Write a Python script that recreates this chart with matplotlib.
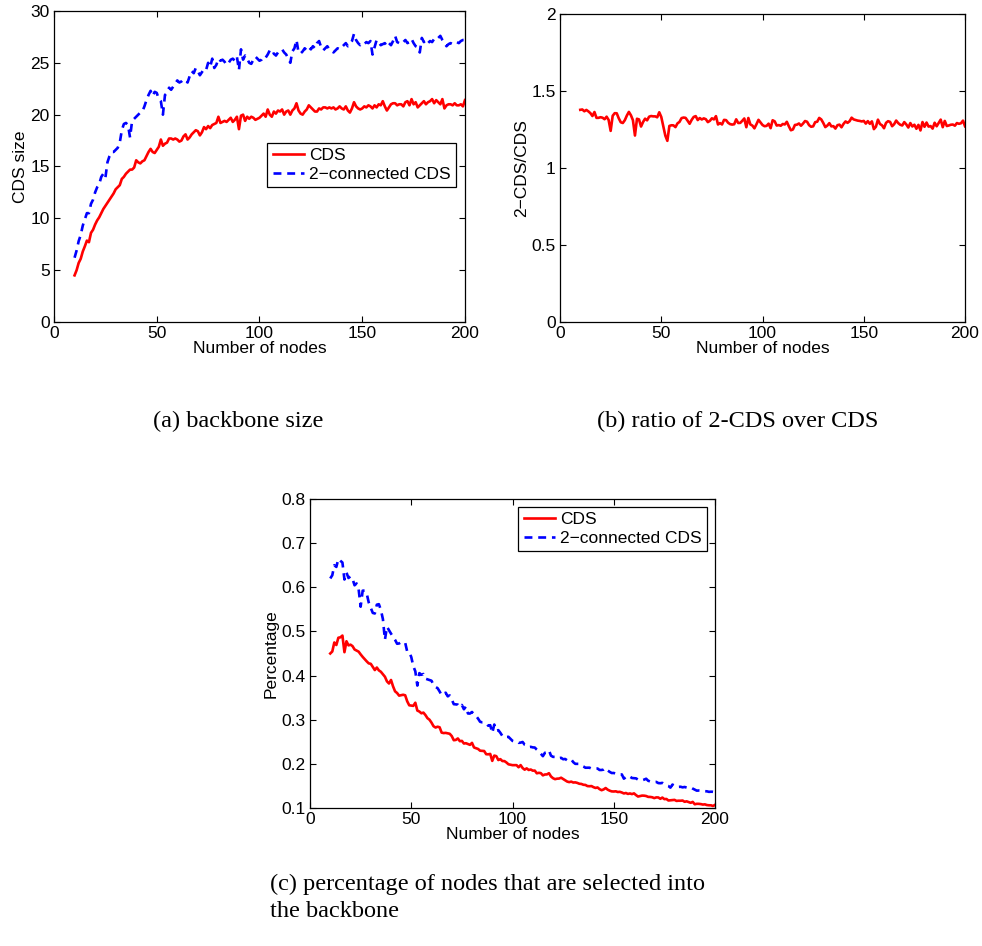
import numpy as np
import matplotlib
matplotlib.use("Agg")
import matplotlib.pyplot as plt

# ---------------- data ----------------
nodes = list(range(10, 201))

cds_size = [
    4.5, 5.0, 5.7, 6.1, 6.8, 7.3, 7.85, 7.7, 8.6, 8.9,          # 10-19
    9.4, 9.8, 10.1, 10.5, 10.9, 11.2, 11.5, 11.8, 12.1, 12.4,   # 20-29
    12.8, 13.0, 13.2, 13.8, 14.0, 14.3, 14.5, 14.7, 14.7, 14.9, # 30-39
    15.6, 15.4, 15.3, 15.5, 15.6, 16.0, 16.4, 16.7, 16.4, 16.3, # 40-49
    16.6, 16.9, 17.6, 17.0, 17.2, 17.3, 17.7, 17.7, 17.6, 17.7, # 50-59
    17.6, 17.4, 17.5, 17.9, 18.1, 17.6, 17.8, 18.1, 18.3, 18.5, # 60-69
    18.4, 18.0, 18.3, 18.8, 18.6, 18.9, 18.7, 19.0, 19.1, 19.2, # 70-79
    19.8, 19.2, 19.3, 19.4, 19.3, 19.5, 19.7, 19.3, 19.5, 19.8, # 80-89
    18.6, 19.9, 20.0, 19.4, 19.8, 19.6, 19.8, 19.7, 19.5, 19.6, # 90-99
    19.7, 19.9, 20.1, 19.8, 20.5, 20.0, 19.8, 20.3, 20.1, 20.4, # 100-109
    20.3, 20.5, 20.0, 20.3, 20.4, 20.0, 20.4, 20.6, 21.1, 20.4, # 110-119
    20.1, 20.0, 20.3, 20.5, 20.9, 20.7, 20.5, 20.3, 20.3, 20.6, # 120-129
    20.5, 20.7, 20.7, 20.6, 20.7, 20.6, 20.7, 20.5, 20.6, 20.8, # 130-139
    20.6, 20.5, 20.8, 20.4, 20.2, 20.6, 21.2, 20.8, 20.6, 20.5, # 140-149
    20.6, 20.8, 20.7, 20.9, 20.8, 20.6, 20.9, 20.7, 21.0, 20.9, # 150-159
    21.3, 20.8, 20.4, 20.7, 21.0, 21.1, 21.1, 20.9, 21.0, 21.0, # 160-169
    20.8, 21.2, 21.3, 20.9, 21.5, 21.0, 21.2, 20.7, 20.9, 21.1, # 170-179
    21.3, 21.0, 21.2, 21.3, 21.5, 21.1, 21.4, 21.2, 21.0, 21.5, # 180-189
    20.6, 20.9, 21.0, 21.0, 20.9, 21.1, 20.9, 20.9, 21.0, 20.8, # 190-199
    21.4,                                                       # 200
]

cds2_size = [
    6.2, 6.9, 7.8, 8.4, 9.3, 9.9, 10.5, 10.5, 11.4, 11.8,       # 10-19
    12.5, 13.0, 13.3, 14.0, 14.3, 13.9, 15.4, 16.0, 16.4, 16.4, # 20-29
    16.6, 16.8, 17.3, 18.5, 19.1, 19.2, 19.0, 17.8, 19.4, 19.6, # 30-39
    19.8, 20.0, 20.2, 20.3, 20.8, 21.4, 21.9, 22.3, 21.8, 22.2, # 40-49
    22.1, 21.5, 21.3, 20.0, 21.9, 22.1, 22.6, 22.4, 22.7, 23.0, # 50-59
    23.3, 23.1, 23.2, 23.4, 23.3, 23.1, 23.7, 24.2, 24.0, 24.5, # 60-69
    24.2, 23.8, 24.1, 24.4, 24.3, 25.0, 24.6, 25.4, 24.5, 24.8, # 70-79
    25.4, 25.2, 25.3, 25.1, 24.8, 25.0, 25.3, 25.4, 25.2, 25.6, # 80-89
    24.3, 26.3, 25.3, 25.7, 25.4, 25.0, 24.9, 25.3, 25.6, 25.4, # 90-99
    25.2, 25.3, 25.6, 25.5, 25.8, 26.2, 25.8, 25.9, 25.7, 26.0, # 100-109
    26.1, 26.3, 26.0, 25.8, 25.4, 25.0, 26.1, 26.4, 27.2, 26.0, # 110-119
    25.9, 26.1, 26.4, 26.2, 26.5, 26.3, 26.6, 26.4, 26.9, 27.1, # 120-129
    26.5, 26.2, 26.4, 26.6, 26.3, 26.2, 26.0, 26.2, 26.4, 26.3, # 130-139
    26.5, 26.7, 26.9, 26.6, 26.8, 27.1, 27.8, 27.2, 26.9, 26.7, # 140-149
    26.9, 26.8, 27.0, 26.9, 27.1, 25.8, 26.5, 27.2, 27.0, 26.7, # 150-159
    26.8, 26.9, 26.6, 26.9, 26.7, 27.1, 27.6, 27.0, 26.9, 26.8, # 160-169
    27.0, 27.2, 26.9, 27.0, 27.3, 26.9, 26.6, 26.5, 26.0, 27.4, # 170-179
    27.0, 27.2, 26.9, 27.1, 27.0, 27.3, 27.2, 27.4, 27.6, 27.2, # 180-189
    26.9, 26.6, 26.8, 26.9, 26.8, 26.9, 27.0, 26.9, 27.1, 27.2, # 190-199
    27.2,                                                       # 200
]

series_labels = ["CDS", "2\u2212connected CDS"]
captions = ["(a) backbone size", "(b) ratio of 2-CDS over CDS",
            "(c) percentage of nodes that are selected into\nthe backbone"]

x = np.array(nodes, dtype=float)
cds = np.array(cds_size)
cds2 = np.array(cds2_size)
ratio = cds2 / cds
pct_cds = cds / x
pct_cds2 = cds2 / x

# ---------------- style ----------------
plt.rcParams['font.family'] = ['Liberation Sans', 'DejaVu Sans']
plt.rcParams['font.size'] = 12.5
plt.rcParams['mathtext.default'] = 'regular'

RED = '#ff0000'
BLUE = '#0000ff'
LW = 1.9

fig = plt.figure(figsize=(9.82, 9.46), dpi=100)

def style_axes(ax):
    ax.tick_params(direction='in', top=True, right=True, length=4.5,
                   width=0.8, labelsize=12.5, pad=3)
    for s in ax.spines.values():
        s.set_linewidth(0.9)
    ax.set_xlim(0, 200)
    ax.set_xticks([0, 50, 100, 150, 200])
    ax.set_xlabel("Number of nodes", fontsize=12.5, labelpad=0)

def add_legend(ax, anchor):
    leg = ax.legend(loc='upper right', bbox_to_anchor=anchor,
                    fancybox=False, framealpha=1, edgecolor='black',
                    handlelength=1.8, handletextpad=0.3, borderpad=0.3,
                    labelspacing=0.2, borderaxespad=0, fontsize=12.5)
    leg.get_frame().set_linewidth(0.9)

# (a)
ax1 = fig.add_axes([0.055, 0.6596, 0.4185, 0.3288])
ax1.plot(x, cds, color=RED, lw=LW, label=series_labels[0])
ax1.plot(x, cds2, color=BLUE, lw=LW, ls=(0, (3.0, 2.2)), label=series_labels[1])
style_axes(ax1)
ax1.set_ylim(0, 30)
ax1.set_yticks([0, 5, 10, 15, 20, 25, 30])
ax1.set_ylabel("CDS size", labelpad=2)
add_legend(ax1, (0.978, 0.5756))

# (b)
ax2 = fig.add_axes([0.5703, 0.6596, 0.4124, 0.3256])
ax2.plot(x, ratio, color=RED, lw=LW)
style_axes(ax2)
ax2.set_ylim(0, 2)
ax2.set_yticks([0, 0.5, 1, 1.5, 2])
ax2.set_yticklabels(["0", "0.5", "1", "1.5", "2"])
ax2.set_ylabel("2\u2212CDS/CDS", labelpad=2)

# (c)
ax3 = fig.add_axes([0.3157, 0.1459, 0.4124, 0.3266])
ax3.plot(x, pct_cds, color=RED, lw=LW, label=series_labels[0])
ax3.plot(x, pct_cds2, color=BLUE, lw=LW, ls=(0, (3.0, 2.2)), label=series_labels[1])
style_axes(ax3)
ax3.set_ylim(0.1, 0.8)
ax3.set_yticks([0.1, 0.2, 0.3, 0.4, 0.5, 0.6, 0.7, 0.8])
ax3.set_ylabel("Percentage", labelpad=2)
add_legend(ax3, (0.980, 0.974))

# captions
serif = ['Liberation Serif', 'DejaVu Serif']
fig.text(238 / 982, 1 - 421 / 946, captions[0], ha='center', va='center',
         family=serif, fontsize=17.5)
fig.text(738 / 982, 1 - 421 / 946, captions[1], ha='center', va='center',
         family=serif, fontsize=17.5)
fig.text(270 / 982, 1 - 874 / 946, captions[2], ha='left', va='top',
         family=serif, fontsize=17.5, linespacing=1.35)

fig.savefig("out.png", dpi=100)
